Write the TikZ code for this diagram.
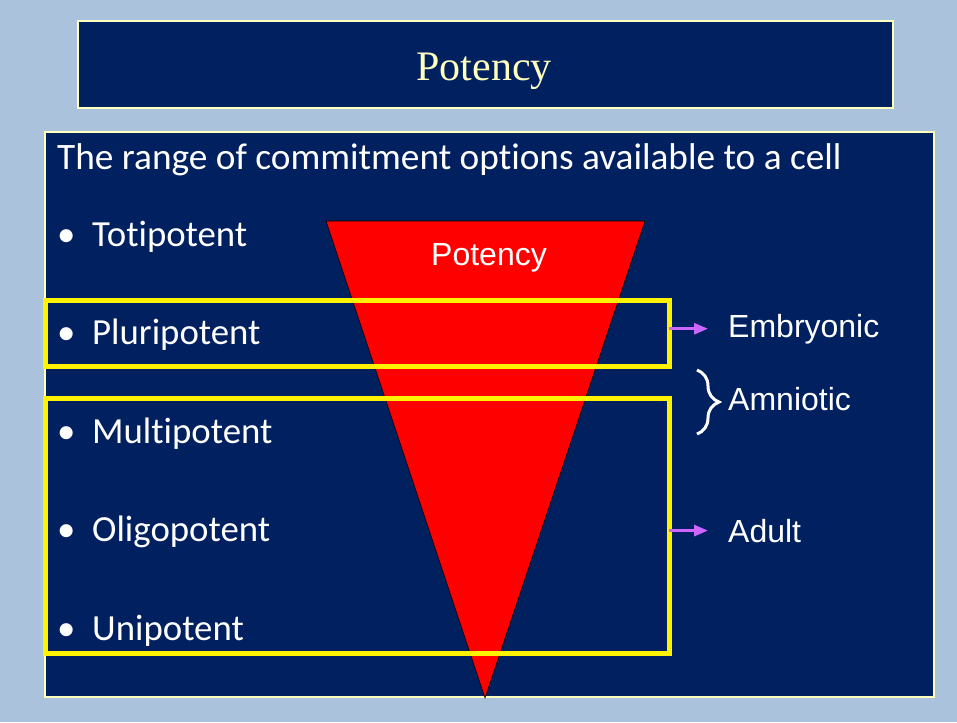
\documentclass[tikz,border=0pt]{standalone}
\usepackage{fontspec}
\setmainfont{Carlito}[Ligatures=NoCommon]
\newfontfamily\titlefont{Liberation Serif}
\newfontfamily\labelfont{Liberation Sans}
\usetikzlibrary{positioning, decorations.pathreplacing, arrows.meta}

\definecolor{slidebg}{RGB}{170,194,220}
\definecolor{navy}{RGB}{0,32,96}
\definecolor{cream}{RGB}{255,255,190}
\definecolor{lilac}{RGB}{204,102,255}

\begin{document}
\begin{tikzpicture}[x=1pt, y=-1pt,
	panel/.style={draw=cream, fill=navy, line width=2.5pt, inner sep=0pt, outer sep=0pt},
	group/.style={draw=yellow, line width=5pt, inner sep=0pt, outer sep=0pt},
	item/.style={anchor=base west, inner sep=0pt, text=white, font=\fontsize{36.8}{43}\selectfont},
	tag/.style={anchor=base west, inner sep=0pt, text=white, font=\labelfont\fontsize{32}{38}\selectfont},
	link/.style={draw=lilac, line width=3pt, -{Triangle[length=14pt, width=11pt]}}]
	\useasboundingbox (0,0) rectangle (957,722);
	\fill[slidebg] (0,0) rectangle (957,722);

	% title and main panel
	\node[panel, minimum width=815pt, minimum height=87pt] (head) at (485.5,64.5) {};
	\node[anchor=base, inner sep=0pt, text=cream, font=\titlefont\fontsize{42}{50}\selectfont] (title) at (484,81) {Potency};
	\node[panel, minimum width=889pt, minimum height=565pt] (body) at (489.5,414.5) {};
	\node[item, font=\fontsize{37.3}{44}\selectfont] (intro) at (57,169) {The range of commitment options available to a cell};

	% levels of potency
	\foreach[count=\i] \lname/\ltext in {toti/Totipotent, pluri/Pluripotent, multi/Multipotent, oligo/Oligopotent, uni/Unipotent} {
		\node[item] (b-\lname) at (57,{246+98.5*(\i-1)}) {\textbullet};
		\node[item] (\lname) at (92,{246+98.5*(\i-1)}) {\ltext};
	}

	% the narrowing wedge
	\draw[fill=red, line width=0.6pt] (326,221) -- (645,221) -- (485,698) -- cycle;
	\node[tag, anchor=base] (wedge) at (489,265) {Potency};

	% groupings
	\node[group, minimum width=624pt, minimum height=66pt] (embbox) at (357,333) {};
	\node[group, minimum width=624pt, minimum height=255pt] (adultbox) at (357,525.5) {};

	\node[tag] (embryonic) at (728,337) {Embryonic};
	\node[tag] (amniotic) at (728,410) {Amniotic};
	\node[tag] (adult) at (728,542) {Adult};

	\draw[link, shorten >=20pt] (embbox.east |- embryonic.west) -- (embryonic.west);
	\draw[link, shorten >=20pt] (adultbox.east |- adult.west) -- (adult.west);
	\draw[white, line width=3pt, decorate, decoration={brace, amplitude=22pt}]
		(697,370) -- (697,434);
\end{tikzpicture}
\end{document}
